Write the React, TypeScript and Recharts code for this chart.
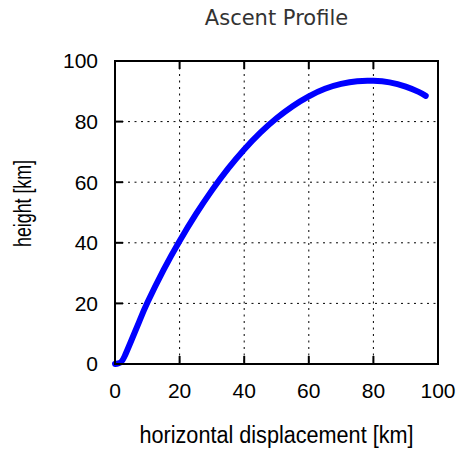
import React from 'react';
import { LineChart, Line, XAxis, YAxis, CartesianGrid } from 'recharts';

// horizontal displacement [km] and height [km]
const distanceKm = [0, 1, 2, 3, 5, 7.5, 10, 15, 20, 25, 30, 35, 40, 45, 50, 55, 60, 65, 70, 75, 80, 85, 90, 94, 96.2];
const heightKm = [0, 0.2, 0.8, 2.6, 7.6, 14.0, 20.2, 31.0, 40.6, 49.35, 57.3, 64.45, 70.8, 76.35, 81.1, 85.1, 88.35, 90.85, 92.45, 93.35, 93.45, 92.95, 91.55, 89.8, 88.5];
const axisTicks = [0, 20, 40, 60, 80, 100];

const data = distanceKm.map((x, i) => ({ x, y: heightKm[i] }));

const tickFont = { fill: '#000', fontSize: 21, fontFamily: 'Liberation Sans, Arial, sans-serif' };
const frame = { stroke: '#000', strokeWidth: 2, strokeLinecap: 'square' as const };
const noLabel = () => '';

const Title = ({ viewBox }: any) => (
  <text
    x={viewBox.x + viewBox.width / 2}
    y={viewBox.y + 25}
    textAnchor="middle"
    fontFamily="DejaVu Sans"
    fontSize={21}
    fill="#333"
  >
    Ascent Profile
  </text>
);

const XTitle = ({ viewBox }: any) => (
  <text
    x={viewBox.x + viewBox.width / 2}
    y={viewBox.y + 79}
    textAnchor="middle"
    fontFamily="Liberation Sans, Arial, sans-serif"
    fontSize={23}
    textLength={274}
    lengthAdjust="spacingAndGlyphs"
    fill="#000"
  >
    horizontal displacement [km]
  </text>
);

const YTitle = ({ viewBox }: any) => {
  const cx = viewBox.x + 30.5;
  const cy = viewBox.y + viewBox.height / 2 - 9;
  return (
    <text
      x={cx}
      y={cy}
      transform={`rotate(-90 ${cx} ${cy})`}
      textAnchor="middle"
      fontFamily="Liberation Sans, Arial, sans-serif"
      fontSize={23}
      textLength={87}
      lengthAdjust="spacingAndGlyphs"
      fill="#000"
    >
      height [km]
    </text>
  );
};

export default function App() {
  return (
    <div style={{ position: 'absolute', left: 0, top: 0, background: '#fff' }}>
      <LineChart width={458} height={450} data={data} margin={{ top: 0, right: 0, bottom: 0, left: 0 }}>
        <CartesianGrid
          xAxisId="bottom"
          yAxisId="left"
          stroke="#000"
          strokeWidth={1}
          strokeDasharray="2 4.5"
        />
        <XAxis
          xAxisId="top"
          orientation="top"
          type="number"
          dataKey="x"
          domain={[0, 100]}
          ticks={axisTicks}
          height={61}
          axisLine={frame}
          tickLine={frame}
          tickSize={-7}
          tickFormatter={noLabel}
          label={<Title />}
        />
        <XAxis
          xAxisId="bottom"
          orientation="bottom"
          type="number"
          dataKey="x"
          domain={[0, 100]}
          ticks={axisTicks}
          height={86}
          axisLine={frame}
          tickLine={frame}
          tickSize={-7}
          tickMargin={26}
          tick={tickFont}
          label={<XTitle />}
        />
        <YAxis
          yAxisId="left"
          orientation="left"
          type="number"
          domain={[0, 100]}
          ticks={axisTicks}
          width={115}
          axisLine={frame}
          tickLine={frame}
          tickSize={-7}
          tickMargin={24}
          tick={tickFont}
          label={<YTitle />}
        />
        <YAxis
          yAxisId="right"
          orientation="right"
          type="number"
          domain={[0, 100]}
          ticks={axisTicks}
          width={20}
          axisLine={frame}
          tickLine={frame}
          tickSize={-7}
          tickFormatter={noLabel}
        />
        <Line
          xAxisId="bottom"
          yAxisId="left"
          type="natural"
          dataKey="y"
          stroke="#0000ff"
          strokeWidth={6}
          strokeLinecap="round"
          dot={false}
          activeDot={false}
          isAnimationActive={false}
        />
      </LineChart>
    </div>
  );
}
